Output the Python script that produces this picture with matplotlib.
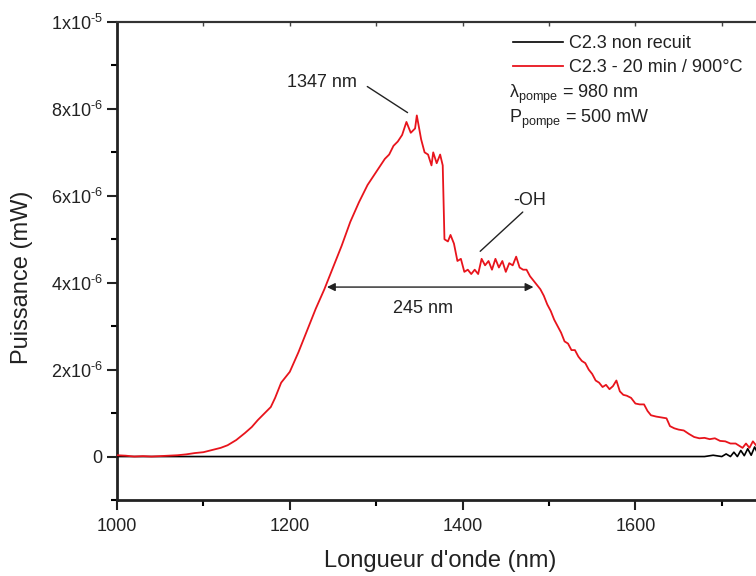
import matplotlib
matplotlib.use("Agg")
import matplotlib.pyplot as plt
from matplotlib.ticker import MultipleLocator, FixedLocator, FixedFormatter, NullFormatter
from matplotlib.lines import Line2D

plt.rcParams['font.family'] = ['Liberation Sans', 'DejaVu Sans']
plt.rcParams['mathtext.fontset'] = 'custom'
plt.rcParams['mathtext.rm'] = 'Liberation Sans'
plt.rcParams['mathtext.it'] = 'Liberation Sans'

# ---- data (wavelength nm, power in units of 1e-6 mW) ----
red_wl = [1000, 1010, 1020, 1030, 1040, 1050, 1060, 1070, 1080, 1090, 1100, 1110, 1120,
          1128, 1138, 1148, 1156, 1163, 1170, 1178, 1183, 1190, 1200, 1210, 1220, 1230,
          1240, 1250, 1260, 1270, 1280, 1290, 1300, 1305, 1310, 1315, 1320, 1325, 1330,
          1335, 1340, 1345, 1347, 1352, 1356, 1360, 1364, 1366, 1370, 1374, 1377, 1379,
          1383, 1386, 1390, 1394, 1398, 1402, 1406, 1410, 1414, 1418, 1422, 1426, 1430,
          1434, 1438, 1442, 1446, 1450, 1454, 1458, 1462, 1466, 1470, 1474, 1478, 1482,
          1486, 1490, 1494, 1498, 1502, 1506, 1510, 1514, 1518, 1522, 1526, 1530, 1534,
          1538, 1542, 1546, 1550, 1554, 1558, 1562, 1566, 1570, 1574, 1578, 1582, 1586,
          1590, 1595, 1600, 1605, 1610, 1614, 1618, 1624, 1630, 1636, 1640, 1645, 1650,
          1656, 1662, 1668, 1674, 1680, 1686, 1692, 1698, 1704, 1710, 1716, 1720, 1724,
          1728, 1732, 1736, 1740, 1745]
red_pw = [0.03, 0.02, 0.00, 0.01, 0.00, 0.01, 0.02, 0.03, 0.05, 0.08, 0.10, 0.15, 0.20,
          0.26, 0.38, 0.54, 0.68, 0.84, 0.98, 1.14, 1.35, 1.70, 1.95, 2.40, 2.90, 3.40,
          3.85, 4.35, 4.85, 5.40, 5.85, 6.25, 6.55, 6.70, 6.85, 6.95, 7.15, 7.25, 7.40,
          7.70, 7.45, 7.55, 7.85, 7.30, 7.00, 6.95, 6.70, 7.00, 6.75, 6.95, 6.70, 5.00,
          4.95, 5.10, 4.90, 4.50, 4.55, 4.25, 4.30, 4.20, 4.30, 4.20, 4.55, 4.40, 4.50,
          4.30, 4.55, 4.35, 4.50, 4.25, 4.45, 4.40, 4.60, 4.35, 4.30, 4.30, 4.15, 4.05,
          3.95, 3.85, 3.70, 3.50, 3.35, 3.15, 3.00, 2.85, 2.65, 2.60, 2.45, 2.45, 2.30,
          2.20, 2.15, 2.00, 1.90, 1.75, 1.70, 1.60, 1.65, 1.55, 1.62, 1.75, 1.50, 1.42,
          1.40, 1.35, 1.22, 1.20, 1.20, 1.05, 0.95, 0.92, 0.90, 0.88, 0.70, 0.65, 0.62,
          0.60, 0.52, 0.45, 0.42, 0.43, 0.40, 0.42, 0.36, 0.35, 0.30, 0.30, 0.25, 0.20,
          0.30, 0.20, 0.35, 0.25, 0.30]

black_wl = [1000, 1100, 1200, 1300, 1400, 1500, 1600, 1680, 1690, 1700, 1705, 1710, 1714,
            1718, 1722, 1726, 1730, 1734, 1738, 1742, 1746]
black_pw = [0.0, 0.0, 0.0, 0.0, 0.0, 0.0, 0.0, 0.0, 0.03, 0.0, 0.06, 0.0, 0.10,
            0.0, 0.14, 0.02, 0.18, 0.03, 0.22, 0.05, 0.20]

scale = 1e-6
y_ticks = [0, 2e-6, 4e-6, 6e-6, 8e-6, 1e-5]
y_ticklabels = ['0', r'$\mathregular{2x10^{\text{-}6}}$', r'$\mathregular{4x10^{\text{-}6}}$',
                r'$\mathregular{6x10^{\text{-}6}}$', r'$\mathregular{8x10^{\text{-}6}}$',
                r'$\mathregular{1x10^{\text{-}5}}$']
x_ticks = [1000, 1200, 1400, 1600]

fig = plt.figure(figsize=(7.56, 5.76), dpi=100)
ax = fig.add_axes([117/756, 1 - 500/576, 648/756, 478/576])

ax.plot(black_wl, [v * scale for v in black_pw], color='black', lw=1.2, zorder=3)
ax.plot(red_wl, [v * scale for v in red_pw], color='#e8141c', lw=1.3, zorder=4)

ax.set_xlim(1000, 1750)
ax.set_ylim(-1e-6, 1e-5)

ax.yaxis.set_major_locator(FixedLocator(y_ticks))
ax.yaxis.set_major_formatter(FixedFormatter(y_ticklabels))
ax.yaxis.set_minor_locator(MultipleLocator(1e-6))
ax.xaxis.set_major_locator(FixedLocator(x_ticks))
ax.xaxis.set_minor_locator(MultipleLocator(100))

ax.tick_params(axis='both', which='major', direction='out', length=7, width=1.5, labelsize=13, colors='#222222')
ax.tick_params(axis='both', which='minor', direction='out', length=4, width=1.5)
ax.tick_params(axis='x', which='both', top=False)
ax.tick_params(axis='x', which='major', pad=6)
for sp in ['left', 'bottom']:
    ax.spines[sp].set_linewidth(2.0)
    ax.spines[sp].set_color('#222222')
ax.spines['top'].set_linewidth(1.5)
ax.spines['top'].set_color('#333333')
ax.spines['right'].set_visible(False)

# small inward ticks on the top axis
top = ax.secondary_xaxis('top')
top.xaxis.set_major_locator(FixedLocator(x_ticks))
top.xaxis.set_minor_locator(MultipleLocator(100))
top.xaxis.set_major_formatter(NullFormatter())
top.tick_params(axis='x', which='both', direction='in', length=3, width=1.0, colors='#444444')
top.spines['top'].set_linewidth(1.5)
top.spines['top'].set_color('#333333')

ax.set_xlabel("Longueur d'onde (nm)", fontsize=17, color='#222222')
ax.xaxis.set_label_coords(323/648, -50/478)
ax.set_ylabel("Puissance (mW)", fontsize=17, color='#222222')
ax.yaxis.set_label_coords(-84/648, 223/478)

# annotations
ax.annotate('', xy=(1339, 7.88e-6), xytext=(1287, 8.55e-6),
            arrowprops=dict(arrowstyle='-', color='#222222', lw=1.0))
ax.text(1237, 8.6e-6, '1347 nm', fontsize=13, ha='center', va='center', color='#222222')

ax.annotate('', xy=(1418, 4.68e-6), xytext=(1472, 5.67e-6),
            arrowprops=dict(arrowstyle='-', color='#222222', lw=1.0))
ax.text(1478, 5.9e-6, '-OH', fontsize=13, ha='center', va='center', color='#222222')

ax.annotate('', xy=(1243, 3.9e-6), xytext=(1482, 3.9e-6),
            arrowprops=dict(arrowstyle='<|-|>', color='#222222', lw=1.0,
                            mutation_scale=12, shrinkA=0, shrinkB=0))
ax.text(1354, 3.4e-6, '245 nm', fontsize=13, ha='center', va='center', color='#222222')

handles = [Line2D([], [], color='black', lw=1.2), Line2D([], [], color='#e8141c', lw=1.3)]
leg = ax.legend(handles, ['C2.3 non recuit', 'C2.3 - 20 min / 900°C'],
                loc='upper left', bbox_to_anchor=(396/648, 1 - 13/478), frameon=False,
                fontsize=13, handlelength=2.75, handletextpad=0.35, labelspacing=0.4,
                borderaxespad=0, borderpad=0)
for t in leg.get_texts():
    t.set_color('#222222')

ax.text(392/648, 1 - 72/478, r'$\mathregular{\lambda_{pompe}}$ = 980 nm', transform=ax.transAxes,
        fontsize=13, ha='left', va='center', color='#222222')
ax.text(392/648, 1 - 97/478, r'$\mathregular{P_{pompe}}$ = 500 mW', transform=ax.transAxes,
        fontsize=13, ha='left', va='center', color='#222222')

fig.savefig('out.png', dpi=100)
